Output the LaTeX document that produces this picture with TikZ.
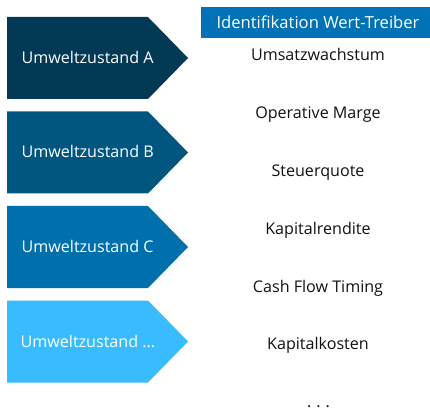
\documentclass[tikz,border=0pt]{standalone}
\usepackage{fontspec}
\setmainfont{Open Sans}
\definecolor{cA}{HTML}{023A56}
\definecolor{cB}{HTML}{015680}
\definecolor{cC}{HTML}{0070AD}
\definecolor{cD}{HTML}{38BCFD}
\definecolor{cH}{HTML}{0072B5}
\definecolor{txt}{HTML}{111111}
\begin{document}
\begin{tikzpicture}[x=1pt,y=-1pt,
  lbl/.style={font=\fontsize{16.1}{18}\selectfont, inner sep=0pt},
  statetext/.style={lbl, text=white, anchor=base west},
  driver/.style={lbl, text=txt, anchor=base}]
\useasboundingbox (0,0) rectangle (430,411);
% header
\fill[cH] (201,7) rectangle (430,38);
\node[lbl, font=\fontsize{16.6}{18}\selectfont, text=white, anchor=base] (hdr) at (318,28.5) {Identifikation Wert-Treiber};
% pentagons
\foreach \t/\c in {17/cA, 111.5/cB, 206/cC, 300.5/cD}{
  \fill[\c] (7,\t) -- (148,\t) -- (188,\t+41) -- (148,\t+82) -- (7,\t+82) -- cycle;
}
\node[statetext] (tA) at (21.5,64) {Umweltzustand A};
\node[statetext] (tB) at (21.5,158) {Umweltzustand B};
\node[statetext] (tC) at (21.5,252.5) {Umweltzustand C};
\node[statetext] (tD) at (20.5,347.5) {Umweltzustand ...};
% drivers
\node[driver] (d1) at (318,61) {Umsatzwachstum};
\node[driver] (d2) at (318,119) {Operative Marge};
\node[driver] (d3) at (318,176.5) {Steuerquote};
\node[driver] (d4) at (318,234) {Kapitalrendite};
\node[driver] (d5) at (318,292) {Cash Flow Timing};
\node[driver] (d6) at (318,349.5) {Kapitalkosten};
\node[driver] (d7) at (318.5,407.5) {.\hspace{5pt}.\hspace{5pt}.};
\end{tikzpicture}
\end{document}
